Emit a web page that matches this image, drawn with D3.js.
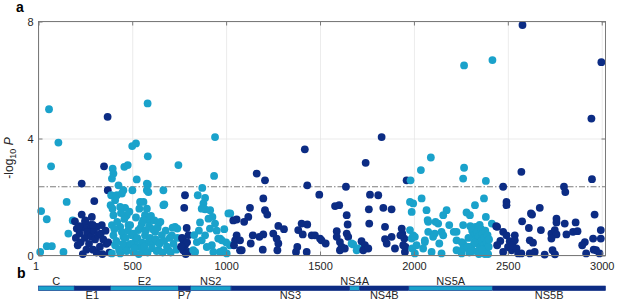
<!DOCTYPE html>
<html>
<head>
<meta charset="utf-8">
<script src="https://cdn.jsdelivr.net/npm/d3@7"></script>
<style>
  body { margin: 0; background: #fff; }
  svg { display: block; }
  text { font-family: "Liberation Sans", Arial, Helvetica, sans-serif; }
</style>
</head>
<body>
<div id="chart"></div>
<script>
// HCV polyprotein genes (residue ranges)
const geneNames  = ['C', 'E1', 'E2', 'P7', 'NS2', 'NS3', 'NS4A', 'NS4B', 'NS5A', 'NS5B'];
const geneStarts = [1, 192, 384, 747, 810, 1027, 1658, 1712, 1973, 2420];
const geneEnds   = [191, 383, 746, 809, 1026, 1657, 1711, 1972, 2419, 3020];
const geneShade  = ['light', 'dark', 'light', 'dark', 'light', 'dark', 'light', 'dark', 'light', 'dark'];

const xTicks = [1, 500, 1000, 1500, 2000, 2500, 3000];
const yTicks = [0, 4, 8];
const threshold = 2.35;

// [residue position, -log10 P]
const sites = [
  // C
  [10,0.12],[15,1.52],[45,1.24],[45,0.32],[57,5.0],[68,3.05],[72,0.32],[107,3.86],[134,0.12],[151,1.83],[160,0.75],[183,1.2],
  // E1
  [231,2.46],[350,3.05],[369,4.74],[298,1.86],[370,2.23],[231,1.4],[285,1.32],[195,1.17],[249,1.15],[338,1.04],[205,0.92],[267,0.87],[312,0.98],
  [200,0.6],[210,0.35],[220,0.75],[225,0.45],[237,0.05],[242,0.95],[248,0.6],[256,0.2],[260,0.8],[270,0.4],
  [278,1.05],[282,0.65],[292,0.2],[296,0.85],[302,0.55],[310,0.1],[318,0.7],[328,0.3],
  [332,0.75],[341,0.05],[346,0.55],[358,0.85],[362,0.4],[372,0.45],[378,0.1],[250,1.2],[218,1.0],[290,1.05],
  // E2
  [396,2.97],[400,2.8],[458,3.03],[476,3.09],[583,3.39],[524,2.6],[388,2.06],[427,2.4],[453,2.23],[501,2.23],[578,2.46],[578,2.23],[666,2.23],
  [542,1.83],[560,1.83],[409,1.89],[671,1.75],[746,3.09],[418,2.06],[500,3.74],[520,3.83],[582,5.2],[583,2.43],[586,2.17],[666,1.72],[462,1.63],
  [392,2.63],[445,2.12],[385,1.72],[436,1.66],
  [640,1.09],[622,0.81],[648,0.46],[640,0.18],[568,1.38],[586,1.21],[551,1.09],[533,0.87],[568,0.69],[586,0.46],[542,0.29],[560,0.12],[498,0.69],
  [480,0.35],[506,0.12],[471,1.38],[489,1.04],[613,0.46],[515,0.46],[728,0.98],[740,0.92],[711,0.69],[693,0.18],[400,1.38],[462,1.32],[392,1.04],
  [436,0.98],[480,1.04],[400,0.69],[453,0.64],[409,0.35],[462,0.29],[392,0.07],[436,0.07],
  [395,1.6],[405,0.9],[415,0.5],[420,1.15],[430,0.2],[440,1.45],[445,0.8],[450,0.4],[458,1.25],[465,0.6],[470,0.15],[478,0.85],[485,1.5],[492,0.4],
  [508,0.75],[512,0.25],[520,1.3],[527,0.6],[535,0.05],[538,1.6],[545,0.95],[552,0.45],[558,1.2],[565,0.3],[572,0.85],[578,1.6],[582,0.1],[590,1.0],
  [595,0.6],[600,1.35],[605,0.25],[610,0.9],[618,1.2],[625,0.55],[630,0.15],[635,0.95],[645,0.4],[650,1.15],[658,0.7],[662,0.1],[670,0.5],[678,0.85],
  [685,0.3],[700,0.6],[705,0.1],[715,0.95],[720,0.4],[735,0.2],[740,0.6],
  // P7
  [781,2.06],[777,1.63],[790,0.94],[772,0.52],[781,0.35],[772,0.18],[799,0.12],[765,0.6],[792,0.45],[785,0.05],[760,0.3],[800,0.7],
  // NS2
  [941,4.05],[936,2.72],[873,2.31],[849,2.06],[888,1.97],[879,1.78],[888,1.58],[870,1.6],[927,1.32],[941,1.09],[906,1.26],[861,1.13],[968,0.58],
  [968,0.12],[924,0.35],[888,0.69],[844,0.46],[835,0.12],[977,0.52],[986,0.18],[1003,0.07],[1012,1.44],[1022,1.44],[1020,0.35],[914,0.92],[958,0.58],
  [870,0.52],[897,0.29],[932,0.12],[825,0.18],[855,0.85],[950,0.85],[990,0.9],[1000,0.45],[915,1.55],[830,0.7],
  // NS3
  [1419,3.63],[1163,2.8],[1207,2.57],[1432,2.4],[1496,2.08],[1198,1.95],[1127,1.63],[1207,1.55],[1219,1.4],[1118,1.32],[1056,1.23],[1096,1.15],
  [1278,1.01],[1308,0.9],[1402,1.09],[1432,1.06],[1384,0.87],[1408,0.72],[1456,0.69],[1251,0.75],[1269,0.58],[1278,0.41],[1198,0.72],[1177,0.64],
  [1142,0.69],[1056,0.69],[1048,0.52],[1042,0.35],[1131,0.41],[1083,0.18],[1195,0.2],[1273,0.18],[1379,0.29],[1372,0.12],[1429,0.12],[1500,0.58],
  [1638,2.35],[1580,1.69],[1602,1.72],[1642,1.38],[1647,1.06],[1589,0.83],[1589,0.64],[1642,0.75],[1650,0.64],[1473,0.69],[1508,0.52],[1530,0.41],
  [1606,0.46],[1615,0.29],[1606,0.18],[1632,0.24],[1038,1.2],[1074,0.52],[1074,0.18],
  // NS4A
  [1677,0.38],[1695,0.18],[1668,0.41],[1703,0.24],
  // NS4B
  [1743,3.17],[1828,4.05],[1766,2.08],[1810,2.06],[1760,1.58],[1837,1.63],[1881,1.58],[1762,1.09],[1846,0.98],[1721,0.49],[1739,0.35],[1730,0.18],
  [1757,0.24],[1846,0.56],[1855,0.41],[1881,0.64],[1899,0.24],[1938,0.75],[1949,0.58],[1943,0.35],[1952,0.12],[1961,2.57],[1928,0.69],[1935,0.92],[1955,0.29],
  // NS5A
  [1982,2.57],[1979,1.83],[1988,1.49],[1979,0.87],[1988,0.58],[1991,0.24],[2090,3.35],[2037,2.92],[2267,3.0],[2262,2.63],[2383,2.55],[2267,6.5],
  [2418,6.68],[2041,1.95],[1996,1.78],[2373,1.95],[2325,1.72],[2280,1.47],[2298,1.38],[2174,1.55],[2156,1.38],[2076,1.15],[2129,1.09],[2188,1.04],
  [2383,1.32],[2415,1.09],[2262,1.04],[2076,0.81],[2111,0.75],[2147,0.81],[2156,0.69],[2227,0.81],[1996,0.69],[2135,0.41],[2058,0.46],[2049,0.24],
  [2014,0.35],[2005,0.07],[2094,0.12],[2147,0.07],[2227,0.18],[2254,0.07],[2262,0.41],[2067,1.55],[2073,1.21],[2115,1.15],[2328,0.98],[2005,0.64],
  [2058,0.52],[2102,0.64],[2212,0.81],[2227,0.52],[2254,0.46],[2262,0.24],
  [2300,1.0],[2310,0.85],[2318,0.7],[2330,0.55],[2335,0.8],[2340,0.4],[2345,0.65],[2350,1.05],[2352,0.25],[2358,0.9],[2360,0.5],[2365,0.75],
  [2368,0.1],[2372,0.35],[2375,0.6],[2380,0.85],[2385,0.2],[2388,0.45],[2392,0.7],[2395,0.05],[2398,0.3],[2400,0.55],[2305,0.3],[2315,0.15],
  [2322,0.45],[2338,0.15],[2346,0.05],[2362,0.2],[2378,0.05],[2290,0.6],[2285,0.3],[2295,0.1],
  // NS5B
  [2578,7.88],[2998,6.61],[2945,4.68],[2475,2.35],[2493,1.83],[2493,1.72],[2443,0.98],[2475,0.81],[2443,0.35],[2475,0.12],[2572,2.86],[2948,2.61],
  [2799,2.35],[2806,2.17],[2670,1.63],[2629,1.4],[2962,1.4],[2576,1.17],[2759,1.26],[2759,1.13],[2803,1.09],[2861,1.13],[2612,0.94],[2676,0.87],
  [2732,0.75],[2750,0.87],[2759,0.72],[2812,0.72],[2847,0.81],[2871,0.83],[2732,0.58],[2493,0.69],[2537,0.69],[2510,0.49],[2537,0.52],[2617,0.52],
  [2634,0.44],[2995,0.87],[2995,0.58],[2954,0.58],[2910,0.46],[2896,0.35],[2501,0.29],[2519,0.18],[2546,0.24],[2555,0.07],[2572,0.07],[2617,0.07],
  [2643,0.12],[2696,0.03],[2738,0.18],[2751,0.04],[2917,0.07],[2970,0.18],[2988,0.07],[2957,0.2],[2623,1.44],[2438,1.0],[2460,0.5],[2525,0.35]
];

const colors = { light: '#1aa2cb', dark: '#0c2c84' };

const W = 617, H = 302;
const plot = { left: 38.5, right: 605.5, top: 21.5, bottom: 255.5 };

const svg = d3.select('#chart').append('svg')
  .attr('width', W)
  .attr('height', H);

const x = d3.scaleLinear().domain([1, 3020]).range([plot.left, plot.right]);
const y = d3.scaleLinear().domain([0, 8]).range([plot.bottom, plot.top]);

function geneIndex(pos) {
  for (let i = 0; i < geneNames.length; i++) {
    if (pos >= geneStarts[i] && pos <= geneEnds[i]) return i;
  }
  return geneNames.length - 1;
}

// grid lines
svg.append('g')
  .attr('transform', `translate(0,${plot.bottom})`)
  .call(d3.axisBottom(x).tickValues(xTicks).tickSize(-(plot.bottom - plot.top)).tickFormat(''))
  .call(g => g.select('.domain').remove())
  .selectAll('line').attr('stroke', '#e6e6e6').attr('stroke-width', 0.8);

svg.append('g')
  .attr('transform', `translate(${plot.left},0)`)
  .call(d3.axisLeft(y).tickValues(yTicks).tickSize(-(plot.right - plot.left)).tickFormat(''))
  .call(g => g.select('.domain').remove())
  .selectAll('line').attr('stroke', '#e6e6e6').attr('stroke-width', 0.8);

// significance threshold
svg.append('line')
  .attr('x1', plot.left).attr('x2', plot.right)
  .attr('y1', y(threshold)).attr('y2', y(threshold))
  .attr('stroke', '#5a5a5a')
  .attr('stroke-width', 0.8)
  .attr('stroke-dasharray', '6,2,1.5,2');

// points
svg.append('g')
  .selectAll('circle')
  .data(sites)
  .enter().append('circle')
  .attr('cx', d => x(d[0]))
  .attr('cy', d => y(d[1]))
  .attr('r', 3.9)
  .attr('fill', d => colors[geneShade[geneIndex(d[0])]]);

// axes, MATLAB style with inward ticks
const axisColor = '#7a7a7a';
function styleAxis(g) {
  g.select('.domain').remove();
  g.selectAll('.tick line').attr('stroke', axisColor);
  g.selectAll('.tick text').attr('fill', '#262626').style('font-size', '11px');
}

svg.append('g')
  .attr('transform', `translate(0,${plot.bottom})`)
  .call(d3.axisBottom(x).tickValues(xTicks).tickSizeInner(-4).tickSizeOuter(0).tickPadding(7).tickFormat(d3.format('d')))
  .call(styleAxis)
  .call(g => g.selectAll('.tick text').filter(d => d === 1).attr('dx', -3));

svg.append('g')
  .attr('transform', `translate(0,${plot.top})`)
  .call(d3.axisTop(x).tickValues(xTicks).tickSizeInner(-4).tickSizeOuter(0).tickFormat(''))
  .call(styleAxis);

svg.append('g')
  .attr('transform', `translate(${plot.left},0)`)
  .call(d3.axisLeft(y).tickValues(yTicks).tickSizeInner(-4).tickSizeOuter(0).tickPadding(5))
  .call(styleAxis);

svg.append('g')
  .attr('transform', `translate(${plot.right},0)`)
  .call(d3.axisRight(y).tickValues(yTicks).tickSizeInner(-4).tickSizeOuter(0).tickFormat(''))
  .call(styleAxis);

svg.append('rect')
  .attr('x', plot.left).attr('y', plot.top)
  .attr('width', plot.right - plot.left)
  .attr('height', plot.bottom - plot.top)
  .attr('fill', 'none')
  .attr('stroke', axisColor)
  .attr('stroke-width', 1);

// y label: -log10 P
svg.append('text')
  .attr('transform', 'translate(12.5,158) rotate(-90)')
  .attr('text-anchor', 'middle')
  .attr('fill', '#262626')
  .style('font-size', '12px')
  .call(t => {
    t.append('tspan').text('-log');
    t.append('tspan').attr('dy', 3).style('font-size', '9px').text('10');
    t.append('tspan').attr('dy', -3).text('\u00a0');
    t.append('tspan').style('font-style', 'italic').text('P');
  });

// panel letters
svg.append('text').attr('x', 16).attr('y', 12)
  .style('font-size', '14px').style('font-weight', 'bold').text('a');
svg.append('text').attr('x', 17).attr('y', 278)
  .style('font-size', '14px').style('font-weight', 'bold').text('b');

// gene map
const barY = 286, barH = 4.6;
const genes = geneNames.map((name, i) => ({ name, start: geneStarts[i], end: geneEnds[i], shade: geneShade[i] }));

svg.append('g')
  .selectAll('rect')
  .data(genes)
  .enter().append('rect')
  .attr('x', d => x(d.start))
  .attr('y', barY)
  .attr('width', d => x(d.end) - x(d.start))
  .attr('height', barH)
  .attr('fill', d => colors[d.shade])
  .attr('stroke', colors.dark)
  .attr('stroke-width', 0.6);

svg.append('g')
  .selectAll('text')
  .data(genes)
  .enter().append('text')
  .attr('x', d => x((d.start + d.end) / 2))
  .attr('y', d => d.shade === 'light' ? barY - 1.5 : barY + barH + 8.5)
  .attr('text-anchor', 'middle')
  .attr('fill', '#262626')
  .style('font-size', '11px')
  .text(d => d.name);
</script>
</body>
</html>
